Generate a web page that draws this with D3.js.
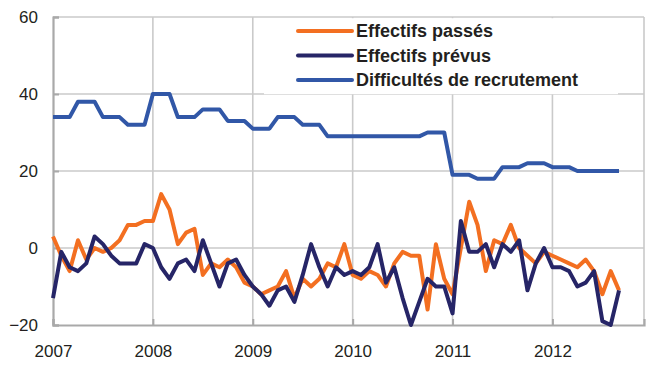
<!DOCTYPE html>
<html>
<head>
<meta charset="utf-8">
<script src="https://cdn.jsdelivr.net/npm/d3@7"></script>
<style>
  html, body { margin: 0; padding: 0; background: #fff; }
  svg { display: block; font-family: "Liberation Sans", Arial, sans-serif; }
</style>
</head>
<body>
<svg id="chart" width="647" height="365"></svg>
<script>
// Monthly survey balances, January 2007 to September 2012
const yearLabels = ["2007", "2008", "2009", "2010", "2011", "2012"];
const yTicks = [-20, 0, 20, 40, 60];

const effectifsPasses = [
  3, -2, -6, 2, -3, 0, -1, 0, 2, 6, 6, 7,
  7, 14, 10, 1, 4, 5, -7, -4, -5, -3, -5, -9,
  -10, -12, -11, -10, -6, -13, -8, -10, -8, -4, -5, 1,
  -7, -8, -6, -7, -10, -4, -1, -2, -2, -16, 1, -8,
  -12, 0, 12, 6, -6, 2, 1, 6, 0, -2, -4, -1,
  -2, -3, -4, -5, -3, -6, -12, -6, -11
];

const effectifsPrevus = [
  -13, -1, -5, -6, -4, 3, 1, -2, -4, -4, -4, 1,
  0, -5, -8, -4, -3, -6, 2, -4, -10, -4, -3, -7,
  -10, -12, -15, -11, -10, -14, -7, 1, -5, -10, -5, -7,
  -6, -7, -5, 1, -9, -5, -13, -20, -14, -8, -10, -10,
  -17, 7, -1, -1, 1, -5, 1, -1, 2, -11, -4, 0,
  -5, -5, -6, -10, -9, -6, -19, -20, -11
];

const difficultesRecrutement = [
  34, 34, 34, 38, 38, 38, 34, 34, 34, 32, 32, 32,
  40, 40, 40, 34, 34, 34, 36, 36, 36, 33, 33, 33,
  31, 31, 31, 34, 34, 34, 32, 32, 32, 29, 29, 29,
  29, 29, 29, 29, 29, 29, 29, 29, 29, 30, 30, 30,
  19, 19, 19, 18, 18, 18, 21, 21, 21, 22, 22, 22,
  21, 21, 21, 20, 20, 20, 20, 20, 20
];

const series = [
  { name: "Effectifs passés", values: effectifsPasses, color: "#f36f21" },
  { name: "Effectifs prévus", values: effectifsPrevus, color: "#262567" },
  { name: "Difficultés de recrutement", values: difficultesRecrutement, color: "#3157a7" }
];

const svg = d3.select("#chart");
const plotLeft = 53, plotRight = 644, plotTop = 17, plotBottom = 325;

// x runs in months from January 2007; the frame closes at December 2012
const x = d3.scaleLinear().domain([0, 71]).range([plotLeft, plotRight]);
const y = d3.scaleLinear().domain([-20, 60]).range([plotBottom, plotTop]);
const yearMonths = yearLabels.map((_, i) => i * 12);

const gridColor = "#cacaca";
const axisColor = "#a9a9a9";
const textColor = "#231f20";

// grid
const grid = svg.append("g");
grid.selectAll("line.h").data(yTicks.filter(v => v > -20)).join("line")
  .attr("class", "h")
  .attr("x1", plotLeft).attr("x2", plotRight)
  .attr("y1", d => y(d)).attr("y2", d => y(d))
  .attr("stroke", gridColor).attr("stroke-width", 1.6);
grid.selectAll("line.v").data(yearMonths.slice(1).concat([71])).join("line")
  .attr("class", "v")
  .attr("x1", d => x(d)).attr("x2", d => x(d))
  .attr("y1", plotTop).attr("y2", plotBottom)
  .attr("stroke", gridColor).attr("stroke-width", 1.6);

// legend panel hides the grid behind it
svg.append("rect")
  .attr("x", 264).attr("y", plotTop + 1.2)
  .attr("width", 354).attr("height", 76)
  .attr("fill", "#fff");

// axes
const yAxis = d3.axisLeft(y).tickValues(yTicks).tickSize(-6).tickPadding(15);
const gy = svg.append("g").attr("transform", `translate(${plotLeft},0)`).call(yAxis);
const xAxis = d3.axisBottom(x).tickValues(yearMonths)
  .tickFormat(d => yearLabels[d / 12]).tickSize(-6).tickPadding(20);
const gx = svg.append("g").attr("transform", `translate(0,${plotBottom})`).call(xAxis);

[gx, gy].forEach(g => {
  g.select(".domain").attr("stroke", axisColor).attr("stroke-width", 2.2);
  g.selectAll(".tick line").attr("stroke", axisColor).attr("stroke-width", 2);
  g.selectAll(".tick text").attr("fill", textColor)
    .style("font-size", "17px");
});

// data lines
const line = d3.line()
  .x((d, i) => x(i))
  .y(d => y(d));

svg.append("g").selectAll("path").data(series).join("path")
  .attr("d", d => line(d.values))
  .attr("fill", "none")
  .attr("stroke", d => d.color)
  .attr("stroke-width", 4)
  .attr("stroke-linejoin", "round")
  .attr("stroke-linecap", "butt");

// legend
const legend = svg.append("g");
const rows = legend.selectAll("g").data(series).join("g")
  .attr("transform", (d, i) => `translate(0,${31 + i * 24.5})`);
rows.append("line")
  .attr("x1", 298).attr("x2", 352)
  .attr("y1", 0).attr("y2", 0)
  .attr("stroke", d => d.color)
  .attr("stroke-width", 4)
  .attr("stroke-linecap", "round");
rows.append("text")
  .attr("x", 356).attr("y", 0).attr("dy", "0.36em")
  .attr("fill", textColor)
  .style("font-size", "18px").style("font-weight", "bold")
  .text(d => d.name);
</script>
</body>
</html>
